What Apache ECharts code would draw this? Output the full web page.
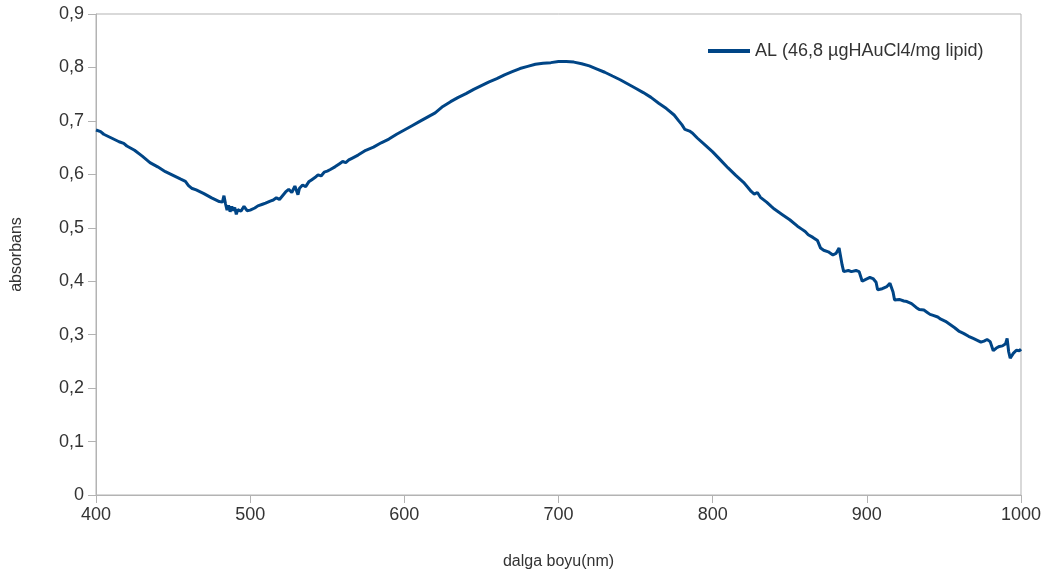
<!DOCTYPE html>
<html>
<head>
<meta charset="utf-8">
<script src="https://cdn.jsdelivr.net/npm/echarts@6/dist/echarts.min.js"></script>
<style>html,body{margin:0;padding:0;background:#fff}#c{width:1053px;height:581px}</style>
</head>
<body>
<div id="c"></div>
<script>
const seriesName = 'AL (46,8 µgHAuCl4/mg lipid)';
const xTitle = 'dalga boyu(nm)';
const yTitle = 'absorbans';
const wavelength = [400,403,405,410,415,418,420,425,430,435,440,445,450,455,458,460,462,465,470,475,480,482,483,484,485,486,487,488,489,490,491,492,494,496,498,500,503,505,508,510,513,515,517,519,521,523,525,527,529,530,531,532,534,536,538,540,542,544,546,548,550,552,555,558,560,562,564,566,570,575,580,585,590,595,600,605,610,615,620,625,630,635,640,645,650,655,660,665,670,675,680,685,690,695,700,705,710,715,720,725,730,735,740,745,750,755,760,765,770,775,778,780,782,785,787,790,795,800,805,810,815,820,823,825,827,829,831,835,838,840,845,850,855,858,860,862,865,868,870,872,875,878,880,882,884,885,888,890,893,895,897,899,902,904,906,907,910,913,915,917,918,921,924,926,929,932,934,937,939,941,943,946,948,951,954,957,960,963,966,969,972,974,976,978,980,982,984,986,988,990,991,992,993,995,997,999,1000];
const absorbance = [0.683,0.680,0.675,0.668,0.661,0.658,0.653,0.645,0.634,0.622,0.614,0.605,0.598,0.591,0.587,0.579,0.574,0.571,0.564,0.556,0.549,0.548,0.560,0.545,0.533,0.542,0.530,0.540,0.532,0.538,0.525,0.534,0.531,0.540,0.532,0.533,0.537,0.541,0.544,0.546,0.550,0.552,0.556,0.553,0.560,0.567,0.572,0.566,0.578,0.570,0.562,0.574,0.580,0.577,0.586,0.590,0.594,0.599,0.597,0.604,0.606,0.609,0.614,0.620,0.624,0.622,0.627,0.630,0.636,0.645,0.651,0.659,0.666,0.675,0.683,0.691,0.699,0.707,0.715,0.727,0.736,0.744,0.751,0.759,0.766,0.773,0.779,0.786,0.792,0.798,0.802,0.806,0.808,0.809,0.811,0.811,0.810,0.807,0.803,0.797,0.791,0.784,0.777,0.769,0.761,0.753,0.744,0.733,0.723,0.711,0.700,0.693,0.684,0.681,0.677,0.668,0.655,0.642,0.627,0.612,0.598,0.585,0.575,0.568,0.563,0.566,0.557,0.548,0.540,0.535,0.525,0.515,0.503,0.497,0.493,0.487,0.482,0.476,0.462,0.458,0.455,0.449,0.452,0.462,0.430,0.418,0.420,0.418,0.420,0.418,0.400,0.403,0.407,0.405,0.398,0.384,0.386,0.390,0.396,0.380,0.365,0.366,0.363,0.362,0.358,0.351,0.347,0.346,0.342,0.338,0.336,0.333,0.329,0.325,0.319,0.313,0.306,0.302,0.297,0.293,0.289,0.286,0.288,0.291,0.287,0.270,0.275,0.278,0.279,0.283,0.293,0.268,0.256,0.265,0.271,0.270,0.273];

const chart = echarts.init(document.getElementById('c'));
const font = '"Liberation Sans", Arial, sans-serif';
const axisColor = '#b3b3b3';
const textColor = '#333333';
chart.setOption({
  animation: false,
  backgroundColor: '#ffffff',
  grid: {left: 96, right: 32, top: 14, bottom: 86, show: true, borderColor: axisColor, borderWidth: 1},
  legend: {
    left: 703, top: 37,
    icon: 'rect', itemWidth: 42, itemHeight: 4, itemGap: 5,
    textStyle: {fontFamily: font, fontSize: 18, color: textColor},
    data: [seriesName]
  },
  xAxis: {
    type: 'value', min: 400, max: 1000, interval: 100,
    name: xTitle, nameLocation: 'middle', nameGap: 59,
    nameTextStyle: {fontFamily: font, fontSize: 16, color: textColor},
    axisLine: {show: true, lineStyle: {color: axisColor, width: 1}},
    axisTick: {show: true, length: 8, lineStyle: {color: axisColor}},
    axisLabel: {fontFamily: font, fontSize: 18, color: textColor, margin: 11,
      formatter: v => String(v)},
    splitLine: {show: false}
  },
  yAxis: {
    type: 'value', min: 0, max: 0.9, interval: 0.1,
    name: yTitle, nameLocation: 'middle', nameGap: 71,
    nameTextStyle: {fontFamily: font, fontSize: 16, color: textColor},
    axisLine: {show: true, lineStyle: {color: axisColor, width: 1}},
    axisTick: {show: true, length: 8, lineStyle: {color: axisColor}},
    axisLabel: {fontFamily: font, fontSize: 18, color: textColor, margin: 12,
      formatter: v => v === 0 ? '0' : v.toFixed(1).replace('.', ',')},
    splitLine: {show: false}
  },
  series: [{
    name: seriesName, type: 'line', showSymbol: false, symbol: 'none',
    data: wavelength.map((w, i) => [w, absorbance[i]]),
    lineStyle: {color: '#004586', width: 3},
    itemStyle: {color: '#004586'}
  }]
});
</script>
</body>
</html>
